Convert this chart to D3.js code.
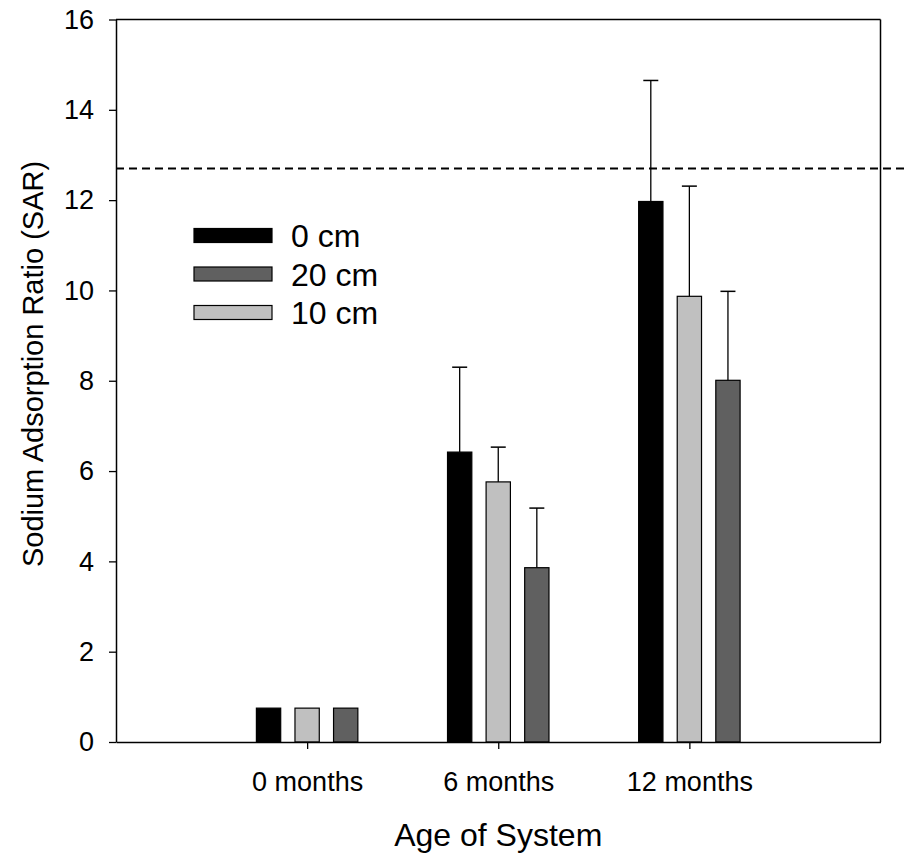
<!DOCTYPE html>
<html>
<head>
<meta charset="utf-8">
<script src="https://cdn.jsdelivr.net/npm/d3@7"></script>
<style>
  body { margin: 0; background: #fff; }
  text { font-family: Arial, "Liberation Sans", sans-serif; fill: #000; }
</style>
</head>
<body>
<div id="chart"></div>
<script>
// data
const ages = ['0 months', '6 months', '12 months'];
const depths = ['0 cm', '10 cm', '20 cm'];          // bar order inside a group
const legendOrder = ['0 cm', '20 cm', '10 cm'];     // as printed in the legend
const means0 = [0.75, 6.42, 11.97];
const means10 = [0.75, 5.76, 9.87];
const means20 = [0.75, 3.86, 8.01];
const err0 = [0, 1.88, 2.68];
const err10 = [0, 0.77, 2.44];
const err20 = [0, 1.32, 1.97];
const yTicks = [0, 2, 4, 6, 8, 10, 12, 14, 16];
const threshold = 12.7;

const colors = {'0 cm': '#000000', '10 cm': '#c0c0c0', '20 cm': '#606060'};

var margin = {top: 19.5, right: 26.5, bottom: 117, left: 116},
    width = 907 - margin.left - margin.right,
    height = 859 - margin.top - margin.bottom;

const svg = d3.select('#chart')
    .append('svg')
    .attr('width', 907)
    .attr('height', 859)
    .append('g')
    .attr('transform', 'translate(' + margin.left + ',' + margin.top + ')');

const xScale = d3.scalePoint()
    .domain(ages)
    .range([0, width])
    .padding(1);

const xSub = d3.scaleBand()
    .domain(depths)
    .range([-65, 65])
    .padding(0.37);

const yScale = d3.scaleLinear()
    .domain([0, 16])
    .range([height, 0]);

const table = [];
depths.forEach(function(dep, k){
    const m = [means0, means10, means20][k];
    const e = [err0, err10, err20][k];
    ages.forEach(function(a, i){
        table.push({age: a, depth: dep, value: m[i], err: e[i]});
    });
});

// frame top and right
svg.append('line')
    .attr('x1', 0).attr('x2', width).attr('y1', 0).attr('y2', 0)
    .attr('stroke', '#000').attr('stroke-width', 1.5);
svg.append('line')
    .attr('x1', width).attr('x2', width).attr('y1', 0).attr('y2', height)
    .attr('stroke', '#000').attr('stroke-width', 1.5);

// error bars (upper only)
const eb = svg.selectAll('.err')
    .data(table.filter(d => d.err > 0))
    .enter().append('g')
    .attr('class', 'err')
    .attr('transform', d => 'translate(' + (xScale(d.age) + xSub(d.depth) + xSub.bandwidth() / 2) + ',0)');
eb.append('line')
    .attr('x1', 0).attr('x2', 0)
    .attr('y1', d => yScale(d.value))
    .attr('y2', d => yScale(d.value + d.err))
    .attr('stroke', '#000').attr('stroke-width', 1.3);
eb.append('line')
    .attr('x1', -7.5).attr('x2', 7.5)
    .attr('y1', d => yScale(d.value + d.err))
    .attr('y2', d => yScale(d.value + d.err))
    .attr('stroke', '#000').attr('stroke-width', 1.5);

// bars
svg.selectAll('.bars')
    .data(table)
    .enter().append('rect')
    .attr('class', 'bars')
    .attr('x', d => xScale(d.age) + xSub(d.depth))
    .attr('width', xSub.bandwidth())
    .attr('y', d => yScale(d.value))
    .attr('height', d => height - yScale(d.value))
    .attr('fill', d => colors[d.depth])
    .attr('stroke', '#000')
    .attr('stroke-width', 1.2);

// dashed threshold line, runs past the frame to the page edge
svg.append('line')
    .attr('x1', 0).attr('x2', width + margin.right)
    .attr('y1', yScale(threshold)).attr('y2', yScale(threshold))
    .attr('stroke', '#000').attr('stroke-width', 2)
    .attr('stroke-dasharray', '8,5');

// axes
const xAxis = d3.axisBottom(xScale).tickSize(7).tickPadding(10).tickSizeOuter(0);
const yAxis = d3.axisLeft(yScale).tickValues(yTicks).tickSize(7).tickPadding(15).tickSizeOuter(0);

svg.append('g')
    .attr('class', 'x-axis')
    .attr('transform', `translate(0, ${height})`)
    .call(xAxis);
svg.append('g')
    .attr('class', 'y-axis')
    .call(yAxis);

svg.selectAll('.x-axis path, .y-axis path').attr('stroke-width', 1.5);
svg.selectAll('.tick line').attr('stroke-width', 1.3);
svg.selectAll('.tick text')
    .attr('font-size', 27)
    .attr('font-family', 'Arial, "Liberation Sans", sans-serif');
svg.selectAll('.x-axis .tick text').attr('dy', 0).attr('y', 49);

svg.append('text')
    .attr('x', xScale(ages[1]))
    .attr('y', height + 104)
    .attr('text-anchor', 'middle')
    .attr('font-size', 32)
    .text('Age of System');

svg.append('text')
    .attr('transform', 'translate(' + (43 - margin.left) + ',' + (364 - margin.top) + ') rotate(-90)')
    .attr('text-anchor', 'middle')
    .attr('font-size', 29)
    .text('Sodium Adsorption Ratio (SAR)');

// legend
const legend = svg.selectAll('.legend')
    .data(legendOrder)
    .enter().append('g')
    .attr('class', 'legend')
    .attr('transform', (d, i) => 'translate(' + (194 - margin.left) + ',' + (235.5 - margin.top + i * 38.5) + ')');
legend.append('rect')
    .attr('x', 0).attr('y', -7)
    .attr('width', 78).attr('height', 14)
    .attr('fill', d => colors[d])
    .attr('stroke', '#000')
    .attr('stroke-width', 1.2);
legend.append('text')
    .attr('x', 97)
    .attr('y', 0)
    .attr('dy', '0.36em')
    .attr('font-size', 32)
    .text(d => d);
</script>
</body>
</html>
